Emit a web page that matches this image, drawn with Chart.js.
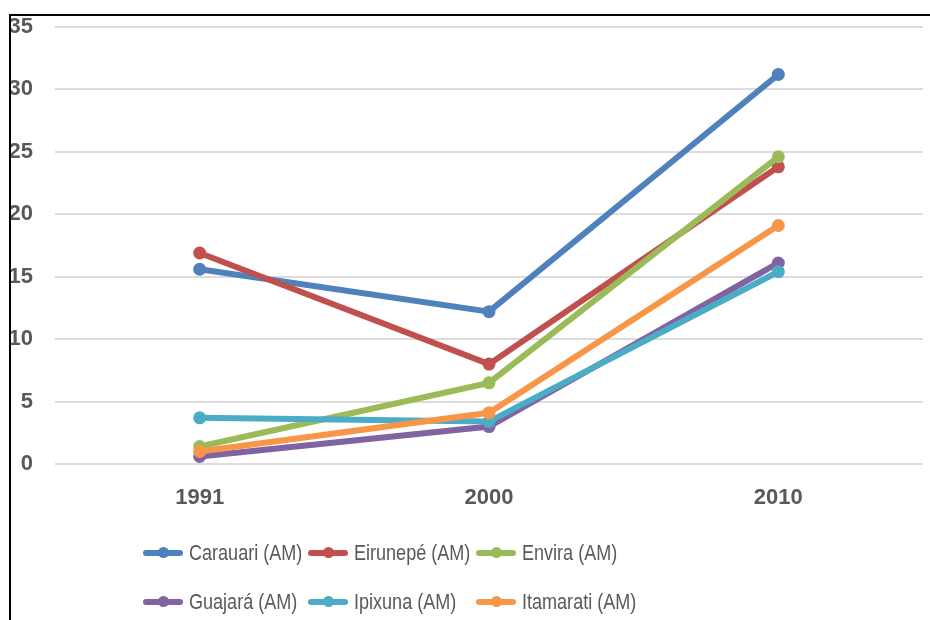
<!DOCTYPE html>
<html lang="pt">
<head>
<meta charset="utf-8">
<title>Municípios (AM) 1991–2010</title>
<script src="https://cdn.jsdelivr.net/npm/chart.js@4.4.1/dist/chart.umd.min.js"></script>
<style>
  html, body { margin: 0; padding: 0; background: #fff; }
  #wrap { position: relative; width: 930px; height: 620px; overflow: hidden; }
  #chart-box { position: absolute; left: 0; top: 0; width: 930px; height: 620px; }
  .frame-top { position: absolute; left: 9px; top: 14px; width: 921px; height: 2px; background: #000; }
  .frame-left { position: absolute; left: 9px; top: 14px; width: 2px; height: 606px; background: #000; }
  #legend {
    position: absolute; left: 143px; top: 534px;
    display: grid; grid-template-columns: 165px 168px 170px; row-gap: 11px;
    font-family: "Liberation Sans", Arial, sans-serif;
    font-size: 22px; color: #595959;
  }
  .item { display: flex; align-items: center; height: 38px; white-space: nowrap; }
  .swatch { position: relative; flex: none; width: 40px; height: 6px; border-radius: 3px; margin-right: 6px; }
  .swatch::after {
    content: ''; position: absolute; left: 15px; top: -3px;
    width: 11px; height: 11px; border-radius: 50%; background: inherit;
  }
  /* narrow the label text the way a condensed face would */
  .name { display: inline-block; transform: scaleX(0.82); transform-origin: left center; }
</style>
</head>
<body>
<div id="wrap">
  <div id="chart-box"><canvas id="lineChart"></canvas></div>
  <div class="frame-top"></div>
  <div class="frame-left"></div>
  <div id="legend"></div>
</div>
<script>
// Anos do censo
const years = ['1991', '2000', '2010'];

// Valores por município
const carauari  = [15.6, 12.2, 31.2];
const eirunepe  = [16.9, 8.0, 23.8];
const envira    = [1.4, 6.5, 24.6];
const guajara   = [0.6, 3.0, 16.1];
const ipixuna   = [3.7, 3.4, 15.4];
const itamarati = [1.0, 4.1, 19.1];

const seriesNames  = ['Carauari (AM)', 'Eirunepé (AM)', 'Envira (AM)', 'Guajará (AM)', 'Ipixuna (AM)', 'Itamarati (AM)'];
const seriesValues = [carauari, eirunepe, envira, guajara, ipixuna, itamarati];
const seriesColors = ['#4F81BD', '#C0504D', '#9BBB59', '#8064A2', '#4BACC6', '#F79646'];

// Eixo Y
const yMin = 0;
const yMax = 35;
const yStep = 5;

document.addEventListener('DOMContentLoaded', () => {
    const chart = initChart();
    buildLegend(chart);
});

/**
 * Line chart, later series drawn on top of earlier ones
 */
function initChart() {
    const ctx = document.getElementById('lineChart').getContext('2d');
    const tickFont = { family: '"Liberation Sans", Arial, sans-serif', size: 22, weight: 'bold' };

    const datasets = seriesNames.map((name, i) => ({
        label: name,
        data: seriesValues[i],
        borderColor: seriesColors[i],
        backgroundColor: seriesColors[i],
        pointBackgroundColor: seriesColors[i],
        pointBorderColor: seriesColors[i],
        borderWidth: 6,
        pointRadius: 6.5,
        pointBorderWidth: 0,
        tension: 0,
        fill: false,
        order: seriesNames.length - i
    }));

    return new Chart(ctx, {
        type: 'line',
        data: { labels: years, datasets },
        options: {
            responsive: true,
            maintainAspectRatio: false,
            animation: false,
            layout: { padding: { top: 27, right: 7, bottom: 96, left: 0 } },
            plugins: {
                legend: { display: false },
                tooltip: { enabled: false }
            },
            scales: {
                x: {
                    offset: true,
                    grid: { display: false, drawTicks: false },
                    border: { display: false },
                    ticks: { color: '#595959', font: tickFont, padding: 21 },
                    afterFit: scale => { scale.height = 60; }
                },
                y: {
                    min: yMin,
                    max: yMax,
                    grid: { color: '#dcdcdc', lineWidth: 2, drawTicks: false },
                    border: { display: false },
                    ticks: { stepSize: yStep, color: '#595959', font: tickFont, padding: 22 },
                    afterFit: scale => {
                        // fixed gutter; the top label may overhang the plot
                        scale.width = 55;
                        scale.paddingTop = 0;
                        scale.paddingBottom = 0;
                    }
                }
            }
        }
    });
}

/**
 * Legend in three columns under the plot
 */
function buildLegend(chart) {
    const box = document.getElementById('legend');
    chart.data.datasets.forEach(ds => {
        const item = document.createElement('div');
        item.className = 'item';
        const sw = document.createElement('span');
        sw.className = 'swatch';
        sw.style.background = ds.borderColor;
        const name = document.createElement('span');
        name.className = 'name';
        name.textContent = ds.label;
        item.append(sw, name);
        box.appendChild(item);
    });
}
</script>
</body>
</html>
